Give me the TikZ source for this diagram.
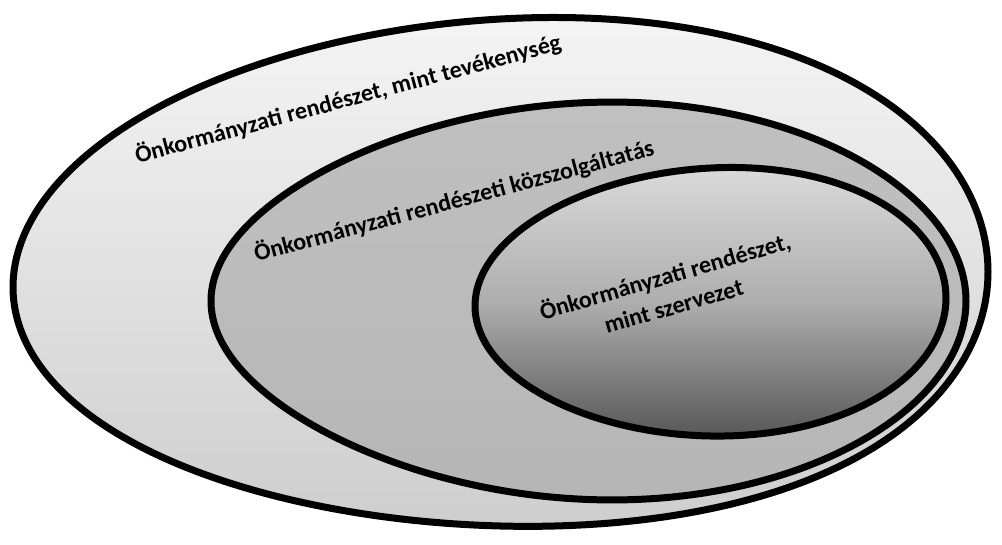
\documentclass[tikz,border=0pt]{standalone}
\usepackage{fontspec}
\setmainfont{Carlito}
\definecolor{outtop}{HTML}{F4F4F4}
\definecolor{outbot}{HTML}{CECECE}
\definecolor{midtop}{HTML}{C0C0C0}
\definecolor{midbot}{HTML}{B6B6B6}
\definecolor{inntop}{HTML}{DADADA}
\definecolor{innmid}{HTML}{AEAEAE}
\definecolor{innbot}{HTML}{585858}
\begin{document}
\begin{tikzpicture}[x=1pt,y=-1pt,
  ring/.style={draw=black,line width=7pt,line join=round},
  lbl/.style={font=\fontsize{24}{31}\selectfont\bfseries,align=center,text=black,inner sep=0pt}]
\fill[white] (0,0) rectangle (1002,544);
\useasboundingbox (0,0) rectangle (1002,544);
% outer
\draw[ring,top color=outtop,bottom color=outbot]
  plot[domain=0:360,samples=181,smooth]
  ({500.5+487.5*cos(\x)},
   {272.5-7.6*cos(\x)+7*cos(\x)*cos(\x)+(253.5+20*cos(\x)+10*cos(\x)*cos(\x))*sin(\x)}) -- cycle;
% middle
\draw[ring,top color=midtop,bottom color=midbot]
  plot[domain=0:360,samples=181,smooth]
  ({588.5+377.5*cos(\x)},
   {301+(198.5+14*cos(\x)-12*cos(\x)*cos(\x))*sin(\x)}) -- cycle;
% inner
\draw[ring,top color=inntop,bottom color=innbot,middle color=innmid]
  plot[domain=0:360,samples=181,smooth]
  ({710.5+235.5*cos(\x)},
   {302-4*cos(\x)+(134+8*cos(\x))*sin(\x)}) -- cycle;
\node[lbl,rotate=15] (t1) at (348,99) {Önkormányzati rendészet, mint tevékenység};
\node[lbl,rotate=15] (t2) at (454,201) {Önkormányzati rendészeti közszolgáltatás};
\node[lbl,rotate=16] (t3) at (669,290) {Önkormányzati rendészet,\\mint szervezet};
\end{tikzpicture}
\end{document}
